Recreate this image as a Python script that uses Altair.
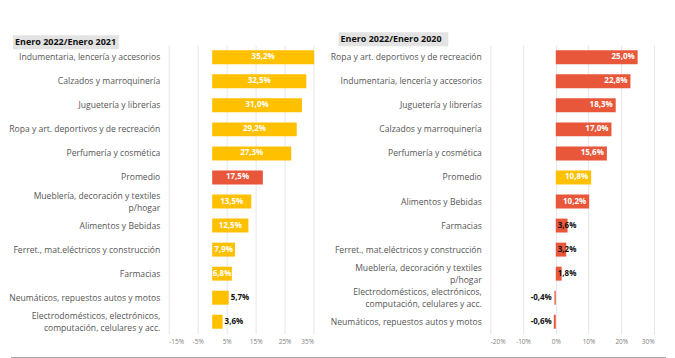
import altair as alt
import pandas as pd

left_title = "Enero 2022/Enero 2021"
right_title = "Enero 2022/Enero 2020"

left_categories = [
    "Indumentaria, lencería y accesorios",
    "Calzados y marroquinería",
    "Juguetería y librerías",
    "Ropa y art. deportivos y de recreación",
    "Perfumería y cosmética",
    "Promedio",
    "Mueblería, decoración y textiles|p/hogar",
    "Alimentos y Bebidas",
    "Ferret., mat.eléctricos y construcción",
    "Farmacias",
    "Neumáticos, repuestos autos y motos",
    "Electrodomésticos, electrónicos,|computación, celulares y acc.",
]
left_values = [35.2, 32.5, 31.0, 29.2, 27.3, 17.5, 13.5, 12.5, 7.9, 6.8, 5.7, 3.6]

right_categories = [
    "Ropa y art. deportivos y de recreación",
    "Indumentaria, lencería y accesorios",
    "Juguetería y librerías",
    "Calzados y marroquinería",
    "Perfumería y cosmética",
    "Promedio",
    "Alimentos y Bebidas",
    "Farmacias",
    "Ferret., mat.eléctricos y construcción",
    "Mueblería, decoración y textiles|p/hogar",
    "Electrodomésticos, electrónicos,|computación, celulares y acc.",
    "Neumáticos, repuestos autos y motos",
]
right_values = [25.0, 22.8, 18.3, 17.0, 15.6, 10.8, 10.2, 3.6, 3.2, 1.8, -0.4, -0.6]

left_ticks = [-15, -5, 5, 15, 25, 35]
right_ticks = [-20, -10, 0, 10, 20, 30]

YELLOW = "#FFC000"
RED = "#E8573A"
FONT = "Open Sans"
W_LEFT, W_RIGHT, H = 145, 164, 289


def panel(cats, vals, ticks, width, base_color, avg_color, inside_min, small_at_zero,
          inside_center, title, box, extra=None):
    df = pd.DataFrame({"cat": cats, "val": vals})
    df["label"] = df["val"].map(lambda v: f"{v:.1f}%".replace(".", ","))
    df["grp"] = ["Promedio" if c == "Promedio" else "Rubro" for c in cats]
    kinds, anchors = [], []
    for v in vals:
        if v >= inside_min:
            kinds.append("in"); anchors.append(v / 2 if inside_center else v)
        elif v > 0:
            kinds.append("outR"); anchors.append(0 if small_at_zero else v)
        else:
            kinds.append("outL"); anchors.append(0)
    df["kind"] = kinds
    df["anchor"] = anchors

    xaxis = alt.Axis(values=ticks, title=None, domain=False, ticks=False,
                     grid=True, gridColor="#e6e6e6",
                     labelExpr="datum.value + '%'", labelFont=FONT,
                     labelFontSize=6.5, labelColor="#808080", labelPadding=5)
    xscale = alt.Scale(domain=[ticks[0], ticks[-1]], nice=False, zero=False)
    yaxis = alt.Axis(title=None, domain=False, ticks=False,
                     labelExpr="split(datum.label, '|')",
                     labelFont=FONT, labelFontSize=8.6, labelColor="#555555",
                     labelPadding=9, labelLimit=0, labelLineHeight=12.5,
                     labelOffset={"condition": {"test": "indexof(datum.value, '|') >= 0",
                                                "value": -6}, "value": 0})
    yenc = alt.Y("cat:N", sort=cats,
                 scale=alt.Scale(paddingInner=0.42, paddingOuter=0.21), axis=yaxis)

    base = alt.Chart(df)
    bars = base.mark_bar().encode(
        x=alt.X("val:Q", scale=xscale, axis=xaxis),
        x2=alt.datum(0),
        y=yenc,
        color=alt.Color("grp:N", scale=alt.Scale(domain=["Rubro", "Promedio"],
                                                 range=[base_color, avg_color]),
                        legend=None),
    )
    common = dict(font=FONT, fontSize=8, fontWeight="bold", baseline="middle")
    xt = alt.X("anchor:Q", scale=xscale, axis=xaxis)
    if inside_center:
        t_in = base.transform_filter("datum.kind == 'in'").mark_text(
            align="center", color="white", **common)
    else:
        t_in = base.transform_filter("datum.kind == 'in'").mark_text(
            align="right", dx=-3, color="white", **common)
    t_in = t_in.encode(x=xt, y=yenc, text="label:N")
    t_r = base.transform_filter("datum.kind == 'outR'").mark_text(
        align="left", dx=2, color="#111111", **common
    ).encode(x=xt, y=yenc, text="label:N")
    t_l = base.transform_filter("datum.kind == 'outL'").mark_text(
        align="right", dx=-4, color="#111111", **common
    ).encode(x=xt, y=yenc, text="label:N")

    tdf = pd.DataFrame({"t": [title]})
    x0, x1, y0, y1 = box
    tbox = alt.Chart(tdf).mark_rect(color="#e3e3e3").encode(
        x=alt.value(x0), x2=alt.value(x1), y=alt.value(y0), y2=alt.value(y1))
    ttext = alt.Chart(tdf).mark_text(
        align="left", baseline="middle", font=FONT, fontSize=9, fontWeight="bold",
        color="#111111").encode(text="t:N", x=alt.value(x0 + 2),
                                y=alt.value((y0 + y1) / 2))
    layers = [bars, t_in, t_r, t_l, tbox, ttext]
    if extra is not None:
        layers.append(extra)
    return alt.layer(*layers).properties(width=width, height=H)


rule_df = pd.DataFrame({"r": [0]})
bottom_rule = alt.Chart(rule_df).mark_rule(color="#a6a6a6", strokeWidth=1.5).encode(
    x=alt.value(-480), x2=alt.value(176), y=alt.value(313))

left = panel(left_categories, left_values, left_ticks, W_LEFT, YELLOW, RED, 6.5, False,
             True, left_title, (-156, -50, -10, 4))
right = panel(right_categories, right_values, right_ticks, W_RIGHT, RED, YELLOW, 10.0, True,
              False, right_title, (-152, -42, -13, 1), extra=bottom_rule)

chart = alt.hconcat(left, right, spacing=177, bounds="flush").resolve_scale(
    color="independent"
).properties(
    padding={"left": 0, "top": 24, "right": 0, "bottom": 0}
).configure(background="white", view=alt.ViewConfig(stroke=None))

chart.save("out.html", embed_options={"renderer": "svg", "actions": False})
